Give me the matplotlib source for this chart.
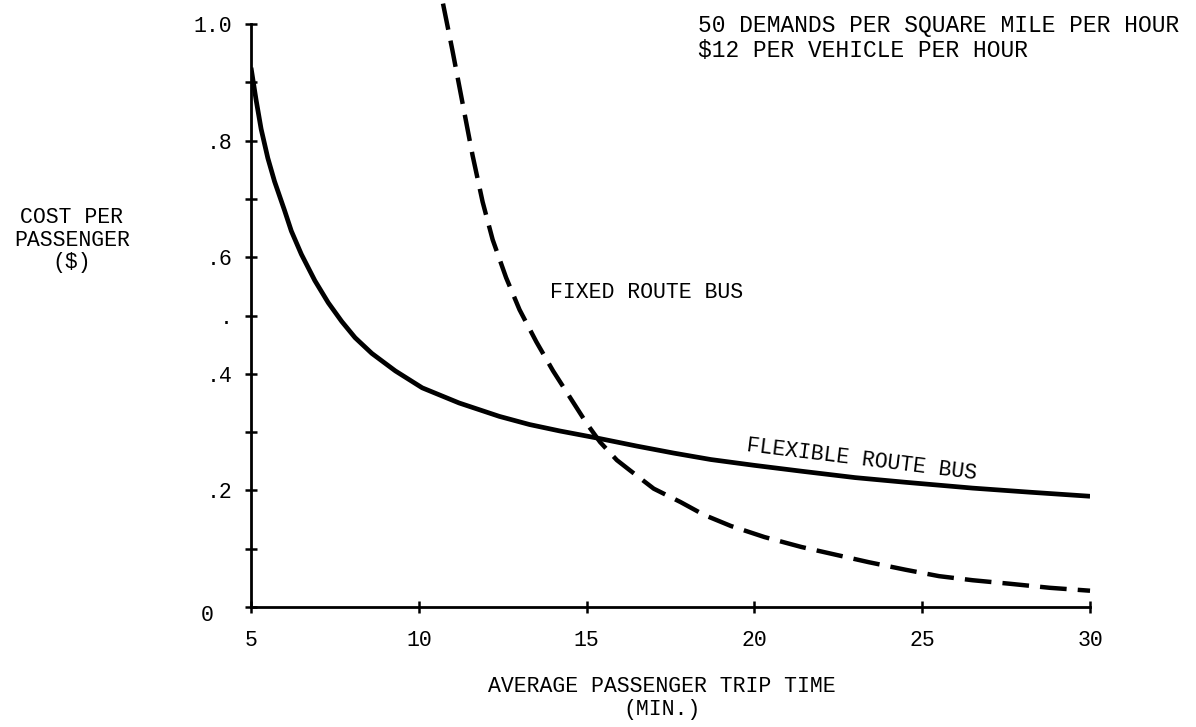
import matplotlib
matplotlib.use("Agg")
import matplotlib.pyplot as plt
import numpy as np

plt.rcParams['font.family'] = ['Liberation Mono', 'DejaVu Sans Mono']

# flexible route bus (solid)
flex_time = [5.0, 5.15, 5.3, 5.5, 5.7, 6.0, 6.2, 6.5, 6.9, 7.3, 7.7, 8.1, 8.6, 9.3, 10.1,
             11.2, 12.4, 13.3, 14.2, 15.3, 16.5, 17.6, 18.7, 20.0, 21.4, 23.0, 24.5, 26.5, 28.2, 30.0]
flex_cost = [0.925, 0.87, 0.82, 0.77, 0.73, 0.68, 0.645, 0.605, 0.56, 0.522, 0.49, 0.462, 0.435, 0.405, 0.376,
             0.35, 0.327, 0.313, 0.302, 0.29, 0.276, 0.264, 0.253, 0.243, 0.233, 0.222, 0.214, 0.204, 0.197, 0.19]

# fixed route bus (dashed), runs off the top of the axis
fixed_time = [10.72, 11.0, 11.3, 11.6, 11.9, 12.2, 12.6, 13.0, 13.5, 14.0, 14.5, 15.0, 15.4, 15.9,
              16.3, 17.0, 17.8, 18.5, 19.3, 20.3, 21.4, 22.4, 23.4, 24.5, 25.5, 26.5, 27.6, 28.8, 30.0]
fixed_cost = [1.035, 0.955, 0.865, 0.775, 0.695, 0.63, 0.565, 0.51, 0.455, 0.405, 0.36, 0.315, 0.283, 0.252,
              0.234, 0.203, 0.18, 0.158, 0.139, 0.12, 0.103, 0.09, 0.077, 0.064, 0.053, 0.046, 0.04, 0.033, 0.028]

xticks = [5, 10, 15, 20, 25, 30]
yticks = [0.0, 0.1, 0.2, 0.3, 0.4, 0.5, 0.6, 0.7, 0.8, 0.9, 1.0]
ylabels = ['', '', '.2', '', '.4', '.', '.6', '', '.8', '', '1.0']

fs = 15.5
fig = plt.figure(figsize=(11.96, 7.27), dpi=100)
ax = fig.add_axes([0.2099, 0.165, 0.7015, 0.802])

ax.plot(flex_time, flex_cost, color='black', lw=3.4, solid_capstyle='butt', solid_joinstyle='round')
ax.plot(fixed_time, fixed_cost, color='black', lw=3.2, dashes=(6.0, 2.5), clip_on=False)

ax.set_xlim(5, 30)
ax.set_ylim(0, 1.0)
for s in ['top', 'right']:
    ax.spines[s].set_visible(False)
for s in ['left', 'bottom']:
    ax.spines[s].set_linewidth(2.0)

ax.set_xticks(xticks)
ax.set_xticklabels([str(t) for t in xticks], fontsize=fs)
ax.set_yticks(yticks)
ax.set_yticklabels(ylabels, fontsize=fs)
ax.tick_params(axis='both', direction='inout', length=9, width=1.8)
ax.tick_params(axis='y', pad=9)
ax.tick_params(axis='x', pad=12)

# the zero label sits a bit below the corner
ax.text(-0.045, -0.015, '0', transform=ax.transAxes, ha='right', va='center', fontsize=fs)

fig.text(72 / 1196, 1 - 240 / 727, 'COST PER\nPASSENGER\n($)', ha='center', va='center',
         fontsize=fs, linespacing=1.1, multialignment='center')
fig.text(662 / 1196, 1 - 698 / 727, 'AVERAGE PASSENGER TRIP TIME\n(MIN.)', ha='center', va='center',
         fontsize=fs, linespacing=1.1, multialignment='center')
fig.text(698 / 1196, 1 - 38 / 727, '50 DEMANDS PER SQUARE MILE PER HOUR\n$12 PER VEHICLE PER HOUR',
         ha='left', va='center', fontsize=16.5, linespacing=1.1)

ax.text(16.8, 0.54, 'FIXED ROUTE BUS', ha='center', va='center', fontsize=fs)
ax.text(23.2, 0.252, 'FLEXIBLE ROUTE BUS', ha='center', va='center', fontsize=fs, rotation=-7)

fig.savefig('out.png', dpi=100)
